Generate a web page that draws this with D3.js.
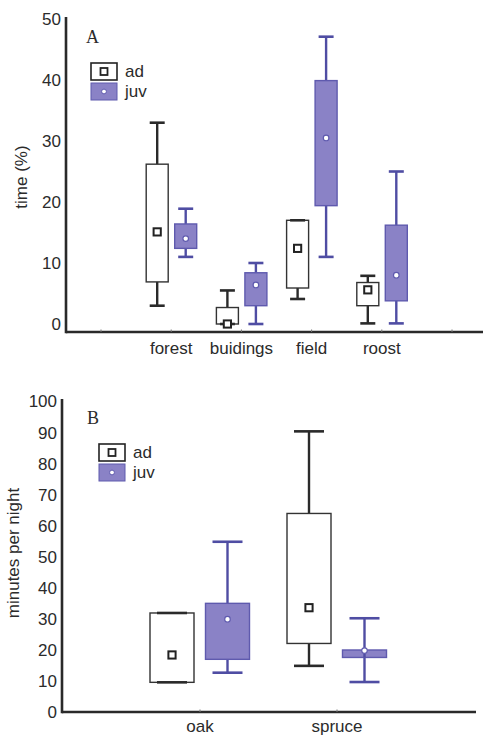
<!DOCTYPE html>
<html>
<head>
<meta charset="utf-8">
<script src="https://cdn.jsdelivr.net/npm/d3@7"></script>
<style>
  body { margin: 0; background: #fff; }
  text { font-family: "Liberation Sans", Arial, sans-serif; fill: #2b2b2b; }
</style>
</head>
<body>
<svg id="chart" width="483" height="738"></svg>
<script>
// panel A: time (%) per habitat
var catsA = ["forest", "buidings", "field", "roost"];
var adMinA = [3, 0, 4.1, 0.1];
var adQ1A  = [6.9, 0, 5.9, 3];
var adMedA = [15.1, 0, 12.4, 5.6];
var adQ3A  = [26.2, 2.7, 17, 6.8];
var adMaxA = [33, 5.5, 17, 7.9];
var juvMinA = [11, 0, 11, 0.1];
var juvQ1A  = [12.4, 3, 19.4, 3.8];
var juvMedA = [14, 6.4, 30.5, 8];
var juvQ3A  = [16.4, 8.4, 39.9, 16.2];
var juvMaxA = [18.9, 10, 47.1, 25];
var ticksA = [0, 10, 20, 30, 40, 50];

// panel B: minutes per night per tree
var catsB = ["oak", "spruce"];
var adMinB = [9.7, 15];
var adQ1B  = [9.7, 22.2];
var adMedB = [18.5, 33.7];
var adQ3B  = [32, 64];
var adMaxB = [32, 90.4];
var juvMinB = [12.8, 9.8];
var juvQ1B  = [17.1, 17.7];
var juvMedB = [30, 19.9];
var juvQ3B  = [35.1, 20.1];
var juvMaxB = [54.9, 30.3];
var ticksB = [0, 10, 20, 30, 40, 50, 60, 70, 80, 90, 100];

var juvFill = "#8a82c6",
    juvStroke = "#5f5aae",
    juvWhisk = "#4f4da3",
    axisCol = "#2a2a2a",
    fs = "17px";

var svg = d3.select("#chart");

function rows(cats, mn, q1, md, q3, mx) {
    return cats.map(function(c, i) {
        return { cat: c, min: mn[i], q1: q1[i], med: md[i], q3: q3[i], max: mx[i] };
    });
}

function drawPanel(p) {
    var g = svg.append("g");

    var y = d3.scaleLinear().domain([0, p.yMax]).range([p.y0, p.yTop]);
    var x = d3.scalePoint().domain(p.xDomain).range(p.xRange);

    // axes
    g.append("line")
        .attr("x1", p.axisX).attr("x2", p.axisX)
        .attr("y1", p.axisTop).attr("y2", p.axisY + 1.2)
        .attr("stroke", axisCol).attr("stroke-width", 2.6);
    g.append("line")
        .attr("x1", p.axisX).attr("x2", p.axisRight)
        .attr("y1", p.axisY).attr("y2", p.axisY)
        .attr("stroke", axisCol).attr("stroke-width", 2.6);

    var yAxis = g.append("g")
        .attr("transform", "translate(" + (p.axisX - 2) + ",0)")
        .call(d3.axisLeft(y).tickValues(p.ticks).tickSize(0).tickPadding(3));
    yAxis.select(".domain").remove();
    yAxis.selectAll("text")
        .style("font-size", fs)
        .style("font-family", "'Liberation Sans', Arial, sans-serif")
        .attr("fill", "#2b2b2b");

    // small x ticks
    g.selectAll(".xt")
        .data(p.xDomain)
        .enter().append("line")
        .attr("x1", function(d) { return x(d); })
        .attr("x2", function(d) { return x(d); })
        .attr("y1", p.axisY - 2.5).attr("y2", p.axisY)
        .attr("stroke", "#777").attr("stroke-width", 1);

    g.selectAll(".xl")
        .data(p.cats)
        .enter().append("text")
        .attr("x", function(d) { return x(d); })
        .attr("y", p.labelY)
        .attr("text-anchor", "middle")
        .style("font-size", fs)
        .text(function(d) { return d; });

    // y title
    g.append("text")
        .attr("transform", "translate(" + p.titleX + "," + p.titleY + ") rotate(-90)")
        .attr("text-anchor", "middle")
        .style("font-size", fs)
        .text(p.title);

    // panel letter
    g.append("text")
        .attr("x", p.letterX).attr("y", p.letterY)
        .style("font-family", "'Liberation Serif', 'Times New Roman', serif")
        .style("font-size", "18px")
        .text(p.letter);

    function boxes(data, off, fill, stroke, whisk, isJuv) {
        var bg = g.append("g");
        var cx = function(d) { return x(d.cat) + off; };
        // whiskers
        bg.selectAll(".wu").data(data).enter().append("line")
            .attr("x1", cx).attr("x2", cx)
            .attr("y1", function(d) { return y(d.q3); })
            .attr("y2", function(d) { return y(d.max); })
            .attr("stroke", whisk).attr("stroke-width", 2.4);
        bg.selectAll(".wl").data(data).enter().append("line")
            .attr("x1", cx).attr("x2", cx)
            .attr("y1", function(d) { return y(d.q1); })
            .attr("y2", function(d) { return y(d.min); })
            .attr("stroke", whisk).attr("stroke-width", 2.4);
        bg.selectAll(".box").data(data).enter().append("rect")
            .attr("x", function(d) { return cx(d) - p.boxW / 2; })
            .attr("y", function(d) { return y(d.q3); })
            .attr("width", p.boxW)
            .attr("height", function(d) { return Math.max(0.5, y(d.q1) - y(d.q3)); })
            .attr("fill", fill)
            .attr("stroke", stroke).attr("stroke-width", 1.4);
        if (isJuv) {
            // whisker line shows through thin boxes
            bg.selectAll(".wt").data(data.filter(function(d) { return y(d.q1) - y(d.q3) < 10; }))
                .enter().append("line")
                .attr("x1", cx).attr("x2", cx)
                .attr("y1", function(d) { return y(d.q1); })
                .attr("y2", function(d) { return y(d.q3); })
                .attr("stroke", whisk).attr("stroke-width", 2.4);
        }
        ["max", "min"].forEach(function(k) {
            bg.selectAll(".c" + k).data(data).enter().append("line")
                .attr("x1", function(d) { return cx(d) - p.capW / 2; })
                .attr("x2", function(d) { return cx(d) + p.capW / 2; })
                .attr("y1", function(d) { return y(d[k]); })
                .attr("y2", function(d) { return y(d[k]); })
                .attr("stroke", whisk).attr("stroke-width", 2.6);
        });
        if (isJuv) {
            bg.selectAll(".m").data(data).enter().append("circle")
                .attr("cx", cx)
                .attr("cy", function(d) { return y(d.med); })
                .attr("r", 2.8)
                .attr("fill", "#fff").attr("stroke", juvStroke).attr("stroke-width", 1.2);
        } else {
            bg.selectAll(".m").data(data).enter().append("rect")
                .attr("x", function(d) { return cx(d) - 3.6; })
                .attr("y", function(d) { return y(d.med) - 3.6; })
                .attr("width", 7.2).attr("height", 7.2)
                .attr("fill", "#fff").attr("stroke", "#222").attr("stroke-width", 2);
        }
    }

    boxes(p.ad, p.adOff, "#fff", "#333", "#2a2a2a", false);
    boxes(p.juv, p.juvOff, juvFill, juvStroke, juvWhisk, true);

    // legend
    var lg = g.append("g").attr("transform", "translate(" + p.legX + "," + p.legY + ")");
    lg.append("rect").attr("x", 0).attr("y", 0).attr("width", 26).attr("height", 17)
        .attr("fill", "#fff").attr("stroke", "#222").attr("stroke-width", 1.6);
    lg.append("rect").attr("x", 9.5).attr("y", 5).attr("width", 7).attr("height", 7)
        .attr("fill", "#fff").attr("stroke", "#222").attr("stroke-width", 1.8);
    lg.append("rect").attr("x", 0).attr("y", 20).attr("width", 26).attr("height", 17)
        .attr("fill", juvFill).attr("stroke", juvStroke).attr("stroke-width", 1);
    lg.append("circle").attr("cx", 13).attr("cy", 28.5).attr("r", 2.4)
        .attr("fill", "#fff").attr("stroke", juvStroke).attr("stroke-width", 1);
    lg.append("text").attr("x", 34).attr("y", 14).style("font-size", fs).text("ad");
    lg.append("text").attr("x", 34).attr("y", 34).style("font-size", fs).text("juv");
}

drawPanel({
    cats: catsA,
    xDomain: ["s0"].concat(catsA).concat(["s1"]),
    xRange: [101, 452],
    yMax: 50, y0: 324, yTop: 19,
    ticks: ticksA,
    axisX: 66, axisTop: 17, axisY: 332, axisRight: 483,
    labelY: 354,
    title: "time (%)", titleX: 27, titleY: 177,
    letter: "A", letterX: 86, letterY: 43,
    ad: rows(catsA, adMinA, adQ1A, adMedA, adQ3A, adMaxA),
    juv: rows(catsA, juvMinA, juvQ1A, juvMedA, juvQ3A, juvMaxA),
    adOff: -14, juvOff: 14.5, boxW: 22, capW: 15,
    legX: 91, legY: 63
});

drawPanel({
    cats: catsB,
    xDomain: catsB,
    xRange: [200, 337],
    yMax: 100, y0: 712.5, yTop: 401.5,
    ticks: ticksB,
    axisX: 62, axisTop: 399, axisY: 712, axisRight: 476,
    labelY: 732,
    title: "minutes per night", titleX: 19, titleY: 553,
    letter: "B", letterX: 87, letterY: 424,
    ad: rows(catsB, adMinB, adQ1B, adMedB, adQ3B, adMaxB),
    juv: rows(catsB, juvMinB, juvQ1B, juvMedB, juvQ3B, juvMaxB),
    adOff: -28, juvOff: 27.5, boxW: 44, capW: 30,
    legX: 99, legY: 444
});
</script>
</body>
</html>
